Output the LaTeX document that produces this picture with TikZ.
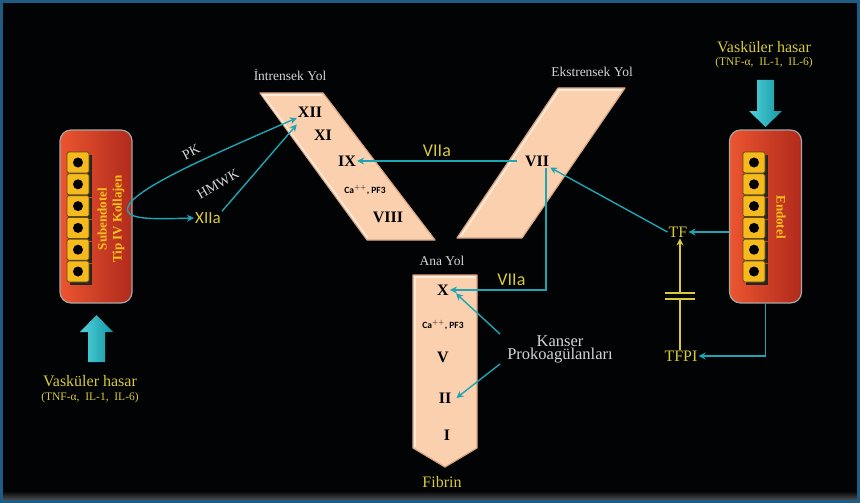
\documentclass[tikz,border=0pt]{standalone}
\usepackage{fontspec}
\setmainfont{Liberation Serif}
\setsansfont{Carlito}
\usetikzlibrary{arrows.meta,positioning,calc}
\definecolor{PanelBlack}{HTML}{020304}
\definecolor{FrameBlue}{HTML}{1F5C84}
\definecolor{LinkCyan}{HTML}{1EA5B3}
\definecolor{ArrowLight}{HTML}{4FD3DA}
\definecolor{ArrowDark}{HTML}{1697A6}
\definecolor{TagYellow}{HTML}{D8CA38}
\definecolor{TagGrey}{HTML}{D4D4D4}
\definecolor{WallRed}{HTML}{EC5530}
\definecolor{WallDark}{HTML}{B02A1C}
\definecolor{CellGold}{HTML}{F5BA1E}
\definecolor{Peach}{HTML}{FAD0AE}
\definecolor{PeachShade}{HTML}{D9A683}
\definecolor{PeachLight}{HTML}{FFEBDA}

\begin{document}
\begin{tikzpicture}[x=1pt,y=-1pt,>={Stealth[length=7pt,width=7pt]},
 link/.style={draw=LinkCyan,line width=1.4pt,->},
 block/.style={draw=TagYellow,line width=1.4pt},
 numeral/.style={font=\fontsize{16}{16}\selectfont\bfseries,text=black,inner sep=1pt},
 cofactor/.style={font=\fontsize{9.5}{10}\selectfont\sffamily\bfseries,text=black,inner sep=1pt},
 pathway/.style={font=\fontsize{13.5}{14}\selectfont,text=TagGrey},
 activated/.style={font=\fontsize{18}{18}\selectfont\sffamily,text=TagYellow,inner sep=1pt},
 yellowtag/.style={font=\fontsize{16}{16}\selectfont,text=TagYellow,inner sep=1pt},
 greytag/.style={font=\fontsize{14}{14}\selectfont,text=TagGrey,inner sep=1pt},
 wall/.style={rounded corners=11pt,draw=gray!70,line width=1.2pt,
              left color=WallRed,right color=WallDark,minimum width=72pt,minimum height=173pt},
 walltext/.style={font=\fontsize{13}{15}\selectfont\bfseries,text=CellGold!85!yellow,align=center},
 cell/.style={fill=CellGold,draw=black!60!CellGold,line width=.8pt,rounded corners=1.5pt},
 slab/.style={fill=Peach,draw=PeachShade,line width=1.2pt,line join=round},
 rim/.style={draw=PeachLight,line width=1.6pt,line cap=round},
 bigarrow/.style={left color=ArrowLight,right color=ArrowDark}]
\useasboundingbox (0,0) rectangle (860,503);

% panel and frame
\fill[PanelBlack] (0,0) rectangle (860,503);
\shade[top color=PanelBlack,bottom color=gray!55!black] (3,491) rectangle (857,499);
\draw[FrameBlue,line width=3pt] (1.5,1.5) rectangle (858.5,501.5);

% vessel walls with their cell rows
\node[wall] (sub) at (96,216.5) {};
\node[wall] (endo) at (765.5,216.5) {};
\foreach \k in {0,...,5}{
  \fill[black!85] (69.5,154.5+21.8*\k) rectangle ++(22,21);
  \draw[cell] (67,152+21.8*\k) rectangle ++(22,21);
  \fill[black] (78,162.5+21.8*\k) circle (5pt);
  \fill[black!85] (745.5,154.5+21.8*\k) rectangle ++(22,21);
  \draw[cell] (743,152+21.8*\k) rectangle ++(22,21);
  \fill[black] (754,162.5+21.8*\k) circle (5pt);
}
\node[walltext,rotate=90] (subtxt) at (111,219) {Subendotel\\Tip IV Kollajen};
\node[walltext,rotate=-90] (endotxt) at (781,217) {Endotel};

% injury arrows
\shade[bigarrow] (757,80) -- (774,80) -- (774,111) -- (782,111) -- (765.5,127)
  -- (749,111) -- (757,111) -- cycle;
\shade[bigarrow] (88,362) -- (105,362) -- (105,332) -- (113,332) -- (96.5,315)
  -- (80,332) -- (88,332) -- cycle;
\node[yellowtag] (hasarR) at (764,47) {Vasküler hasar};
\node[yellowtag,font=\fontsize{11.5}{12}\selectfont] (tnfR) at (764,63) {(TNF-α,\ \ IL-1,\ \ IL-6)};
\node[yellowtag] (hasarL) at (90,381) {Vasküler hasar};
\node[yellowtag,font=\fontsize{11.5}{12}\selectfont] (tnfL) at (90,398) {(TNF-α,\ \ IL-1,\ \ IL-6)};

% the three pathways
\filldraw[slab] (260,93) -- (323,93) -- (435,240) -- (367,240) -- cycle;
\draw[rim] (367.5,237.5) -- (263,95) -- (321,95);
\filldraw[slab] (558,88) -- (625,88) -- (522,238) -- (457,238) -- cycle;
\draw[rim] (461,236) -- (559,90) -- (621,90);
\filldraw[slab] (413,275) -- (477,275) -- (477,448) -- (445,467) -- (413,448) -- cycle;
\draw[rim] (415,446) -- (415,277) -- (475,277);
\node[pathway] (intr) at (290,75) {İntrensek Yol};
\node[pathway] (ekstr) at (592,72) {Ekstrensek Yol};
\node[pathway] (ana) at (442,261) {Ana Yol};
\node[yellowtag] (fibrin) at (442,482) {Fibrin};

\node[numeral] (xii) at (310,112) {XII};
\node[numeral] (xi) at (323,135) {XI};
\node[numeral] (ix) at (347,161) {IX};
\node[cofactor] (caI) at (365,190) {Ca$^{++}$, PF3};
\node[numeral] (viii) at (388,217) {VIII};
\node[numeral] (vii) at (537,161) {VII};
\node[numeral] (x) at (443,290) {X};
\node[cofactor] (caA) at (443,325) {Ca$^{++}$, PF3};
\node[numeral] (v) at (443,357) {V};
\node[numeral] (ii) at (445,398) {II};
\node[numeral] (i) at (447,435) {I};

% factors and inhibitors
\node[activated,font=\fontsize{17}{17}\selectfont\sffamily] (xiia) at (208,218) {XIIa};
\node[yellowtag] (tf) at (678,232) {TF};
\node[yellowtag] (tfpi) at (681,356) {TFPI};
\node[greytag,font=\fontsize{16.5}{13}\selectfont,align=center] (kanser) at (560,349) {Kanser\\Prokoagülanları};
\node[greytag,rotate=28] (pk) at (191,152) {PK};
\node[greytag,rotate=30] (hmwk) at (218,184) {HMWK};

% connectors
\coordinate (bend) at (128,212);
\draw[link,<->] ([yshift=-6pt]xii.west) .. controls (200,160) and (120,195) .. (bend)
  .. controls (133,220) and (160,219) .. (xiia.west);
\draw[link] (xiia.north east) -- ([yshift=-6pt]xii.south west);
\draw[link] ([xshift=-7pt]vii.west) -- (ix.east) node[activated,midway,above=3pt] {VIIa};
\draw[link] ([xshift=9pt]vii.south) |- (x.east) node[activated,pos=0.68,above=3pt] {VIIa};
\draw[link] (tf.west) -- (vii.south east);
\draw[link] (endo.west |- tf.east) -- (tf.east);
\draw[link] (endo.south) |- (tfpi.east);
\draw[link] ([xshift=-6pt]kanser.north west) -- ([xshift=6pt,yshift=3pt]x.south east);
\draw[link] ([xshift=-6pt]kanser.south west) -- ([xshift=4pt]ii.east);
\coordinate (lowbar) at (680,299);
\coordinate (highbar) at (680,293);
\draw[block,->] (lowbar |- tfpi.north) -- (lowbar) (highbar) -- (highbar |- tf.south);
\draw[block] ([xshift=-15pt]lowbar) -- ([xshift=15pt]lowbar);
\draw[block] ([xshift=-15pt]highbar) -- ([xshift=15pt]highbar);
\end{tikzpicture}
\end{document}
